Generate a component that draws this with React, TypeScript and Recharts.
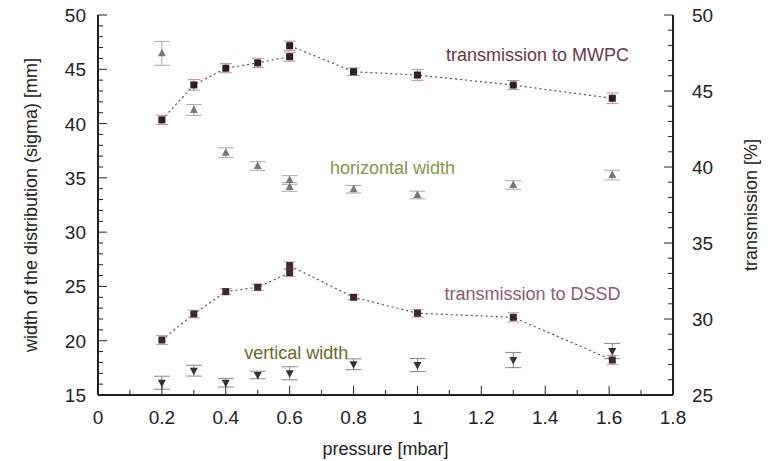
import React from 'react';
import {
  ComposedChart,
  Scatter,
  Line,
  XAxis,
  YAxis,
  ErrorBar,
  ReferenceDot,
} from 'recharts';

// pressure [mbar] vs. widths (left axis) and transmission (right axis)
const mwpc = [
  { x: 0.2, y: 43.1, e: 0.3 },
  { x: 0.3, y: 45.4, e: 0.35 },
  { x: 0.4, y: 46.5, e: 0.3 },
  { x: 0.5, y: 46.85, e: 0.3 },
  { x: 0.6, y: 47.26, e: 0.3 },
  { x: 0.6, y: 47.98, e: 0.3 },
  { x: 0.8, y: 46.27, e: 0.25 },
  { x: 1.0, y: 46.05, e: 0.35 },
  { x: 1.3, y: 45.39, e: 0.3 },
  { x: 1.61, y: 44.52, e: 0.35 },
];

const dssd = [
  { x: 0.2, y: 28.62, e: 0.3 },
  { x: 0.3, y: 30.33, e: 0.25 },
  { x: 0.4, y: 31.8, e: 0.2 },
  { x: 0.5, y: 32.09, e: 0.2 },
  { x: 0.6, y: 33.05, e: 0.25 },
  { x: 0.6, y: 33.51, e: 0.25 },
  { x: 0.8, y: 31.43, e: 0.15 },
  { x: 1.0, y: 30.38, e: 0.25 },
  { x: 1.3, y: 30.11, e: 0.3 },
  { x: 1.61, y: 27.3, e: 0.3 },
];

const horizontalWidth = [
  { x: 0.2, y: 46.47, e: 1.1 },
  { x: 0.3, y: 41.25, e: 0.5 },
  { x: 0.4, y: 37.32, e: 0.45 },
  { x: 0.5, y: 36.09, e: 0.4 },
  { x: 0.6, y: 34.8, e: 0.4 },
  { x: 0.6, y: 34.16, e: 0.4 },
  { x: 0.8, y: 33.95, e: 0.35 },
  { x: 1.0, y: 33.42, e: 0.35 },
  { x: 1.3, y: 34.34, e: 0.4 },
  { x: 1.61, y: 35.26, e: 0.45 },
];

const verticalWidth = [
  { x: 0.2, y: 16.13, e: 0.6 },
  { x: 0.3, y: 17.24, e: 0.5 },
  { x: 0.4, y: 16.13, e: 0.4 },
  { x: 0.5, y: 16.84, e: 0.35 },
  { x: 0.6, y: 17.0, e: 0.6 },
  { x: 0.8, y: 17.83, e: 0.5 },
  { x: 1.0, y: 17.76, e: 0.6 },
  { x: 1.3, y: 18.22, e: 0.7 },
  { x: 1.61, y: 19.05, e: 0.7 },
];

const xTicks = [0, 0.1, 0.2, 0.3, 0.4, 0.5, 0.6, 0.7, 0.8, 0.9, 1, 1.1, 1.2, 1.3, 1.4, 1.5, 1.6, 1.7, 1.8];
const leftTicks = [
  15, 16, 17, 18, 19, 20, 21, 22, 23, 24, 25, 26, 27, 28, 29, 30, 31, 32, 33, 34, 35,
  36, 37, 38, 39, 40, 41, 42, 43, 44, 45, 46, 47, 48, 49, 50,
];
const rightTicks = [
  25, 26, 27, 28, 29, 30, 31, 32, 33, 34, 35, 36, 37, 38, 39, 40, 41, 42, 43, 44, 45,
  46, 47, 48, 49, 50,
];

const FONT = '"Liberation Sans", Arial, Helvetica, sans-serif';
const INK = '#222';

const isMajorX = (v: number) => Math.round(v * 10) % 2 === 0;
const fmtX = (v: number) => (Math.round(v * 10) / 10).toString();

const BottomTick = (props: any) => {
  const { x, y, payload } = props;
  const major = isMajorX(payload.value);
  return (
    <g>
      <line x1={x} x2={x} y1={y} y2={y - (major ? 9 : 5)} stroke={INK} />
      {major && (
        <text x={x} y={y + 29} textAnchor="middle" fontSize={19} fontFamily={FONT} fill={INK}>
          {fmtX(payload.value)}
        </text>
      )}
    </g>
  );
};

const TopTick = (props: any) => {
  const { x, y, payload } = props;
  const major = isMajorX(payload.value);
  return <line x1={x} x2={x} y1={y} y2={y + (major ? 9 : 5)} stroke={INK} />;
};

const LeftTick = (props: any) => {
  const { x, y, payload } = props;
  const major = payload.value % 5 === 0;
  return (
    <g>
      <line x1={x} x2={x + (major ? 9 : 5)} y1={y} y2={y} stroke={INK} />
      {major && (
        <text x={x - 12} y={y + 7} textAnchor="end" fontSize={19} fontFamily={FONT} fill={INK}>
          {payload.value}
        </text>
      )}
    </g>
  );
};

const RightTick = (props: any) => {
  const { x, y, payload } = props;
  const major = payload.value % 5 === 0;
  return (
    <g>
      <line x1={x} x2={x - (major ? 9 : 5)} y1={y} y2={y} stroke={INK} />
      {major && (
        <text x={x + 19} y={y + 7} textAnchor="start" fontSize={19} fontFamily={FONT} fill={INK}>
          {payload.value}
        </text>
      )}
    </g>
  );
};

const SquareMark = (p: any) => (
  <rect x={p.cx - 3.5} y={p.cy - 3.5} width={7} height={7} fill={p.fill} />
);
const TriUp = (p: any) => (
  <polygon
    points={`${p.cx},${p.cy - 4.5} ${p.cx - 4},${p.cy + 3} ${p.cx + 4},${p.cy + 3}`}
    fill={p.fill}
  />
);
const TriDown = (p: any) => (
  <polygon
    points={`${p.cx},${p.cy + 4.5} ${p.cx - 4},${p.cy - 3} ${p.cx + 4},${p.cy - 3}`}
    fill={p.fill}
  />
);

const annotation = (text: string, color: string) => ({
  value: text,
  position: 'center' as const,
  fill: color,
  fontSize: 18,
  fontFamily: FONT,
});

export default function App() {
  return (
    <div style={{ position: 'absolute', left: 0, top: 0, width: 771, height: 461, background: '#fff' }}>
      <ComposedChart width={771} height={461} margin={{ top: 15, right: 0, bottom: 0, left: 0 }}>
        <XAxis
          xAxisId="top"
          orientation="top"
          type="number"
          dataKey="x"
          domain={[0, 1.8]}
          ticks={xTicks}
          interval={0}
          height={0}
          tickSize={0}
          tickMargin={0}
          tickLine={false}
          allowDataOverflow
          axisLine={{ stroke: INK, strokeWidth: 2 }}
          tick={<TopTick />}
        />
        <XAxis
          type="number"
          dataKey="x"
          domain={[0, 1.8]}
          ticks={xTicks}
          interval={0}
          height={66}
          tickSize={0}
          tickMargin={0}
          tickLine={false}
          allowDataOverflow
          axisLine={{ stroke: INK, strokeWidth: 2 }}
          tick={<BottomTick />}
          label={{
            content: ({ viewBox }: any) => (
              <text
                x={viewBox.x + viewBox.width / 2}
                y={viewBox.y + 60}
                textAnchor="middle"
                fontSize={18}
                fontFamily={FONT}
                fill={INK}
              >
                pressure [mbar]
              </text>
            ),
          }}
        />
        <YAxis
          yAxisId="left"
          orientation="left"
          type="number"
          domain={[15, 50]}
          ticks={leftTicks}
          interval={0}
          width={98}
          tickSize={0}
          tickMargin={0}
          tickLine={false}
          allowDataOverflow
          axisLine={{ stroke: INK, strokeWidth: 2 }}
          tick={<LeftTick />}
          label={{
            content: ({ viewBox }: any) => {
              const cx = viewBox.x + 32;
              const cy = viewBox.y + viewBox.height / 2;
              return (
                <text
                  x={cx}
                  y={cy}
                  transform={`rotate(-90, ${cx}, ${cy})`}
                  textAnchor="middle"
                  dominantBaseline="middle"
                  fontSize={18}
                  fontFamily={FONT}
                  fill={INK}
                >
                  width of the distribution (sigma) [mm]
                </text>
              );
            },
          }}
        />
        <YAxis
          yAxisId="right"
          orientation="right"
          type="number"
          domain={[25, 50]}
          ticks={rightTicks}
          interval={0}
          width={98}
          tickSize={0}
          tickMargin={0}
          tickLine={false}
          allowDataOverflow
          axisLine={{ stroke: INK, strokeWidth: 2 }}
          tick={<RightTick />}
          label={{
            content: ({ viewBox }: any) => {
              const cx = viewBox.x + 79;
              const cy = viewBox.y + viewBox.height / 2;
              return (
                <text
                  x={cx}
                  y={cy}
                  transform={`rotate(-90, ${cx}, ${cy})`}
                  textAnchor="middle"
                  dominantBaseline="middle"
                  fontSize={18}
                  fontFamily={FONT}
                  fill={INK}
                >
                  transmission [%]
                </text>
              );
            },
          }}
        />

        <Line
          data={mwpc}
          dataKey="y"
          yAxisId="right"
          type="linear"
          stroke="#555"
          strokeWidth={1.2}
          strokeDasharray="2 3"
          dot={false}
          activeDot={false}
          isAnimationActive={false}
        />
        <Line
          data={dssd}
          dataKey="y"
          yAxisId="right"
          type="linear"
          stroke="#555"
          strokeWidth={1.2}
          strokeDasharray="2 3"
          dot={false}
          activeDot={false}
          isAnimationActive={false}
        />

        <Scatter data={mwpc} dataKey="y" yAxisId="right" fill="#2a2226" shape={SquareMark} isAnimationActive={false}>
          <ErrorBar dataKey="e" direction="y" width={6} stroke="#c88a98" strokeWidth={1} />
        </Scatter>
        <Scatter data={dssd} dataKey="y" yAxisId="right" fill="#3a2a30" shape={SquareMark} isAnimationActive={false}>
          <ErrorBar dataKey="e" direction="y" width={6} stroke="#d09aa8" strokeWidth={1} />
        </Scatter>
        <Scatter data={horizontalWidth} dataKey="y" yAxisId="left" fill="#777" shape={TriUp} isAnimationActive={false}>
          <ErrorBar dataKey="e" direction="y" width={8} stroke="#aaa" strokeWidth={1} />
        </Scatter>
        <Scatter data={verticalWidth} dataKey="y" yAxisId="left" fill="#333" shape={TriDown} isAnimationActive={false}>
          <ErrorBar dataKey="e" direction="y" width={8} stroke="#888" strokeWidth={1} />
        </Scatter>

        <ReferenceDot x={1.376} y={46.32} yAxisId="left" r={0} stroke="none" label={annotation('transmission to MWPC', '#6a3848')} />
        <ReferenceDot x={0.922} y={35.91} yAxisId="left" r={0} stroke="none" label={annotation('horizontal width', '#8a9448')} />
        <ReferenceDot x={1.36} y={24.3} yAxisId="left" r={0} stroke="none" label={annotation('transmission to DSSD', '#8a5c74')} />
        <ReferenceDot x={0.621} y={18.87} yAxisId="left" r={0} stroke="none" label={annotation('vertical width', '#6a6a28')} />
      </ComposedChart>
    </div>
  );
}
